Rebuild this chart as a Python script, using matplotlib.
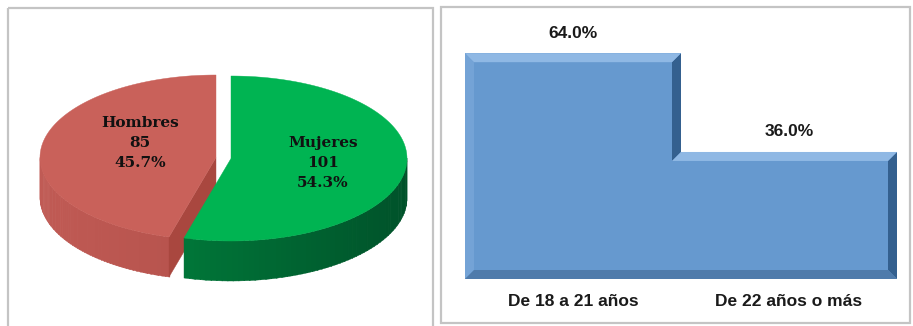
import numpy as np
import matplotlib.pyplot as plt
from matplotlib.colors import to_rgb
from matplotlib.patches import Polygon, Rectangle

# datos
genero = ['Hombres', 'Mujeres']
genero_n = [85, 101]
edad = ['De 18 a 21 años', 'De 22 años o más']
edad_pct = [64.0, 36.0]

W, H = 913, 326
fig = plt.figure(figsize=(W / 100, H / 100), dpi=100)

# lienzo en pixeles para marcos y la torta 3D
canvas = fig.add_axes([0, 0, 1, 1])
canvas.set_xlim(0, W)
canvas.set_ylim(H, 0)
canvas.axis('off')

for x0, y0, x1, y1 in [(8, 8, 433, 345), (441, 7, 910, 323)]:
    canvas.add_patch(Rectangle((x0, y0), x1 - x0, y1 - y0, fill=False,
                               ec='#c4c4c4', lw=1.6))

# ---- torta 3D ----
rx, ry, depth = 176, 82.5, 40
centers = [(216, 157.5), (231, 158.5)]          # Hombres separado a la izquierda
top_cols = ['#c9615a', '#00b452']
side_cols = [('#c05a54', '#a94a44'), ('#008a40', '#00522a')]
cut_col = '#a9473f'
label_pos = [(140, 143), (323, 163)]

total = sum(genero_n)
fr = [n / total for n in genero_n]
# Mujeres en sentido horario desde las 12, Hombres antihorario
spans = [(90, 90 + 360 * fr[0]), (90 - 360 * fr[1], 90)]


def pt(cx, cy, t, dy=0):
    t = np.radians(t)
    return np.column_stack([cx + rx * np.cos(t), cy - ry * np.sin(t) + dy])


def mix(c1, c2, u):
    a, b = np.array(to_rgb(c1)), np.array(to_rgb(c2))
    return tuple(a + (b - a) * u)


for i, (t0, t1) in enumerate(spans):
    cx, cy = centers[i]
    # lado frontal visible (mitad inferior de la elipse)
    if t0 >= 90:
        lo, hi = max(t0, 180), min(t1, 360)
    else:
        lo, hi = max(t0, -180), min(t1, 0)
    if hi > lo:
        edges = np.linspace(lo, hi, 60)
        for k in range(len(edges) - 1):
            ts = np.linspace(edges[k], edges[k + 1] + 0.3, 4)
            up = pt(cx, cy, ts)
            dn = pt(cx, cy, ts[::-1], depth)
            u = (np.cos(np.radians(edges[k])) + 1) / 2
            col = mix(side_cols[i][0], side_cols[i][1], u)
            canvas.add_patch(Polygon(np.vstack([up, dn]), closed=True,
                                     fc=col, ec=col, lw=0.3))
    # cara de corte visible
    for t, nrm in [(t0, t0 - 90), (t1, t1 + 90)]:
        if np.sin(np.radians(nrm)) < -0.05:
            e = pt(cx, cy, [t])[0]
            face = [(cx, cy), e, (e[0], e[1] + depth), (cx, cy + depth)]
            canvas.add_patch(Polygon(face, closed=True, fc=cut_col,
                                     ec=cut_col, lw=0.3))
    top = np.vstack([[cx, cy], pt(cx, cy, np.linspace(t0, t1, 200))])
    canvas.add_patch(Polygon(top, closed=True, fc=top_cols[i],
                             ec=top_cols[i], lw=0.3))
    pct = 100 * fr[i]
    canvas.text(*label_pos[i], f'{genero[i]}\n{genero_n[i]}\n{pct:.1f}%',
                ha='center', va='center', family='DejaVu Serif',
                weight='bold', fontsize=11, linespacing=1.55,
                color='#111111')

# ---- barras biseladas ----
ax = fig.add_axes([465 / W, 47 / H, 432 / W, 247 / H])
ax.patch.set_alpha(0)
ax.set_xlim(-0.5, 1.5)
ax.set_ylim(0, 70)
fill = '#6699cf'
bars = ax.bar(range(len(edad)), edad_pct, width=1, color=fill, lw=0)

bx = 9 / 216
by = 9 / (247 / 70)
c_top, c_right, c_bottom, c_left = '#8fb8e4', '#34608f', '#4f7bab', '#74a3d6'
for i, r in enumerate(bars):
    x0, x1, h = r.get_x(), r.get_x() + r.get_width(), r.get_height()
    prv = bars[i - 1].get_height() if i > 0 else 0
    nxt = bars[i + 1].get_height() if i + 1 < len(bars) else 0
    first, last = i == 0, i == len(bars) - 1
    # bisel izquierdo (solo la primera barra)
    if first:
        ax.add_patch(Polygon([(x0, 0), (x0, h), (x0 + bx, h - by), (x0 + bx, by)],
                             closed=True, fc=c_left, ec='none'))
    # bisel derecho hasta la altura de la barra siguiente
    if nxt < h:
        yb = nxt - by if nxt > 0 else by
        ax.add_patch(Polygon([(x1, h), (x1, max(nxt, 0)), (x1 - bx, yb),
                              (x1 - bx, h - by)],
                             closed=True, fc=c_right, ec='none'))
    # bisel superior
    if prv > h:
        poly = [(x0, h), (x1, h), (x1 - bx, h - by), (x0 - bx, h - by)]
    else:
        poly = [(x0, h), (x1, h), (x1 - bx, h - by), (x0 + bx, h - by)]
    ax.add_patch(Polygon(poly, closed=True, fc=c_top, ec='none'))
    # bisel inferior
    bl = x0 + bx if first else x0
    br = x1 - bx if last else x1
    ax.add_patch(Polygon([(x0, 0), (x1, 0), (br, by), (bl, by)],
                         closed=True, fc=c_bottom, ec='none'))
    ax.annotate(f'{h:.1f}%', (r.get_x() + r.get_width() / 2, h),
                xytext=(0, 14.5), textcoords='offset points', ha='center',
                va='center', family='Liberation Sans', weight='bold',
                fontsize=12.5, color='#1a1a1a')

ax.set_xticks(range(len(edad)), edad, family='Liberation Sans',
              weight='bold', fontsize=12.5, color='#1a1a1a')
ax.tick_params(axis='x', length=0, pad=11)
ax.set_yticks([])
for s in ax.spines.values():
    s.set_visible(False)

fig.savefig('out.png', dpi=100, facecolor='white')
